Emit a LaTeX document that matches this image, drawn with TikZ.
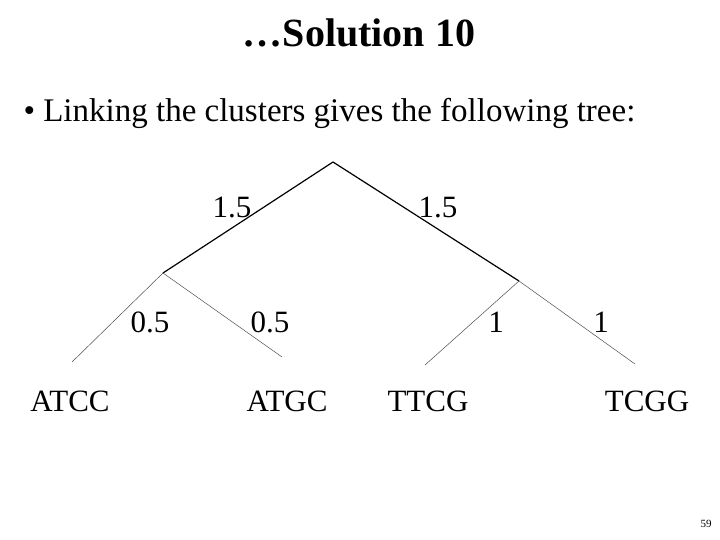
\documentclass[tikz,border=0pt]{standalone}
\usepackage{fontspec}
\setmainfont{Liberation Serif}
\tikzset{branch/.style={line width=1.2pt},
  twig/.style={line width=0.5pt, black!70},
  lbl/.style={font=\fontsize{31}{36}\selectfont, inner sep=0pt},
  leaf/.style={font=\fontsize{31}{36}\selectfont, inner sep=0pt}}
\begin{document}
\begin{tikzpicture}[x=1pt,y=-1pt]
  \useasboundingbox (0,0) rectangle (720,540);
  \node[font=\bfseries\fontsize{40}{44}\selectfont] (title) at (359,33) {\ldots Solution 10};
  \node[anchor=west, font=\fontsize{33}{38}\selectfont] (bullet) at (20,113) {\textbullet\ Linking the clusters gives the following tree:};

  \coordinate (R) at (333,162);
  \coordinate (L) at (163,273);
  \coordinate (M) at (519,281);
  \coordinate (a) at (72,362);
  \coordinate (b) at (282,357);
  \coordinate (c) at (425,365);
  \coordinate (d) at (635,364);

  \draw[branch] (L) -- (R) -- (M);
  \draw[twig] (a) -- (L) -- (b);
  \draw[twig] (c) -- (M) -- (d);

  \node[lbl] (l1) at (232,207) {1.5};
  \node[lbl] (l2) at (438,207) {1.5};
  \node[lbl] (l3) at (150,322) {0.5};
  \node[lbl] (l4) at (270,322) {0.5};
  \node[lbl] (l5) at (496,322) {1};
  \node[lbl] (l6) at (601,322) {1};

  \node[leaf] (ATCC) at (70,401) {ATCC};
  \node[leaf] (ATGC) at (287,401) {ATGC};
  \node[leaf] (TTCG) at (428,401) {TTCG};
  \node[leaf] (TCGG) at (647,401) {TCGG};

  \node[font=\fontsize{11}{12}\selectfont] (page) at (706,524) {59};
\end{tikzpicture}
\end{document}
